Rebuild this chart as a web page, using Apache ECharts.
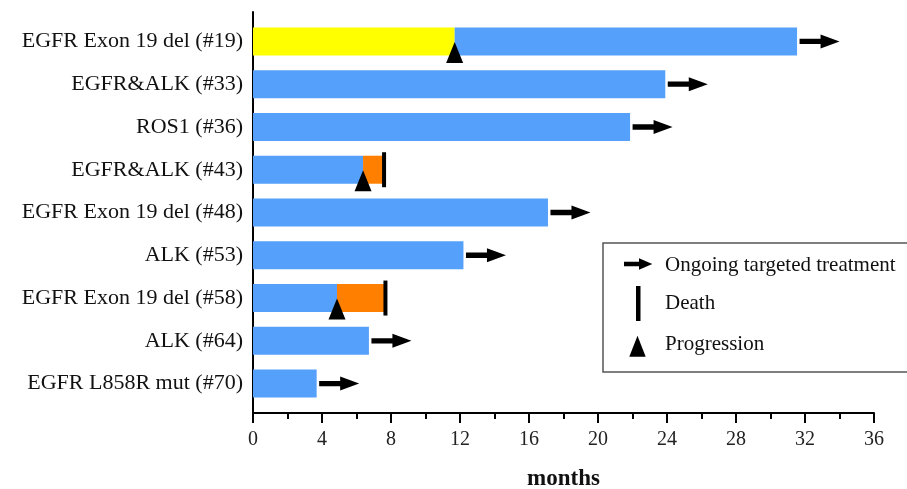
<!DOCTYPE html>
<html>
<head>
<meta charset="utf-8">
<script src="https://cdn.jsdelivr.net/npm/echarts@6/dist/echarts.min.js"></script>
<style>
html,body{margin:0;padding:0;background:#fff;}
#chart{width:907px;height:489px;}
</style>
</head>
<body>
<div id="chart"></div>
<script>
// ---- data ----
const categories = [
  'EGFR Exon 19 del (#19)',
  'EGFR&ALK (#33)',
  'ROS1 (#36)',
  'EGFR&ALK (#43)',
  'EGFR Exon 19 del (#48)',
  'ALK (#53)',
  'EGFR Exon 19 del (#58)',
  'ALK (#64)',
  'EGFR L858R mut (#70)'
];
const progressionMonths = [11.69, null, null, 6.38, null, null, 4.87, null, null];
const endMonths = [31.54, 23.9, 21.86, 7.54, 17.1, 12.2, 7.62, 6.72, 3.69];
const outcome = ['ongoing', 'ongoing', 'ongoing', 'death', 'ongoing', 'ongoing', 'death', 'ongoing', 'ongoing'];
const phase1Therapy = ['chemo', 'targeted', 'targeted', 'targeted', 'targeted', 'targeted', 'targeted', 'targeted', 'targeted'];
const phase2Therapy = ['targeted', null, null, 'other', null, null, 'other', null, null];
const xTicks = [0, 4, 8, 12, 16, 20, 24, 28, 32, 36];
const legendLabels = ['Ongoing targeted treatment', 'Death', 'Progression'];

// ---- styles ----
const therapyColor = { targeted: '#55A0FA', chemo: '#FFFF00', other: '#FF8000' };
const FONT = 'Liberation Serif';
const arrowPath = 'path://M0,4.3 L21,4.3 L21,0 L40,7 L21,14 L21,9.7 L0,9.7 Z';

const phase1Data = categories.map((c, i) => ({
  value: progressionMonths[i] != null ? progressionMonths[i] : endMonths[i],
  itemStyle: { color: therapyColor[phase1Therapy[i]] }
}));
const phase2Data = categories.map((c, i) => ({
  value: progressionMonths[i] != null ? +(endMonths[i] - progressionMonths[i]).toFixed(3) : 0,
  itemStyle: { color: phase2Therapy[i] ? therapyColor[phase2Therapy[i]] : 'transparent' }
}));
const progressionData = [];
const deathData = [];
const ongoingData = [];
categories.forEach((c, i) => {
  if (progressionMonths[i] != null) progressionData.push([progressionMonths[i], i]);
  if (outcome[i] === 'death') deathData.push([endMonths[i], i]);
  if (outcome[i] === 'ongoing') ongoingData.push([endMonths[i], i]);
});

const markStyle = { color: '#000', opacity: 1 };
const chart = echarts.init(document.getElementById('chart'), null, { renderer: 'canvas' });
const option = {
  animation: false,
  backgroundColor: '#fff',
  grid: [
    { left: 253, right: 33, top: 12, bottom: 76, containLabel: false, outerBoundsMode: 'none' },
    { left: 253, right: 33, top: 20, bottom: 84, containLabel: false, outerBoundsMode: 'none' }
  ],
  xAxis: [
    {
      gridIndex: 0, type: 'value', min: xTicks[0], max: xTicks[xTicks.length - 1], interval: xTicks[1] - xTicks[0],
      axisLine: { show: true, lineStyle: { color: '#000', width: 2 } },
      axisTick: { show: true, length: 10, lineStyle: { color: '#000', width: 2 } },
      minorTick: { show: true, splitNumber: 2, length: 6, lineStyle: { color: '#000', width: 2 } },
      splitLine: { show: false },
      axisLabel: { margin: 17, fontFamily: FONT, fontSize: 20, color: '#222' },
      name: 'months', nameLocation: 'middle', nameGap: 55,
      nameTextStyle: { fontFamily: FONT, fontSize: 23, fontWeight: 'bold', color: '#111' }
    },
    { gridIndex: 1, type: 'value', min: 0, max: 36, show: false }
  ],
  yAxis: [
    {
      gridIndex: 0, type: 'value', min: 0, max: 1,
      axisLine: { show: true, onZero: false, lineStyle: { color: '#000', width: 2 } },
      axisTick: { show: false }, axisLabel: { show: false }, splitLine: { show: false }
    },
    {
      gridIndex: 1, type: 'category', data: categories, inverse: true,
      axisLine: { show: false }, axisTick: { show: false }, splitLine: { show: false },
      axisLabel: { margin: 10, fontFamily: FONT, fontSize: 22, color: '#111' }
    }
  ],
  series: [
    { type: 'bar', xAxisIndex: 1, yAxisIndex: 1, stack: 'a', barWidth: 28, data: phase1Data },
    { type: 'bar', xAxisIndex: 1, yAxisIndex: 1, stack: 'a', barWidth: 28, data: phase2Data },
    {
      type: 'scatter', xAxisIndex: 1, yAxisIndex: 1, data: ongoingData,
      symbol: arrowPath, symbolSize: [40, 14], symbolOffset: [22.5, 0], symbolKeepAspect: false,
      itemStyle: markStyle, z: 5
    },
    {
      type: 'scatter', xAxisIndex: 1, yAxisIndex: 1, data: deathData,
      symbol: 'rect', symbolSize: [4, 35], symbolOffset: [1, 0],
      itemStyle: markStyle, z: 5
    },
    {
      type: 'scatter', xAxisIndex: 1, yAxisIndex: 1, data: progressionData,
      symbol: 'triangle', symbolSize: [17, 21], symbolOffset: [0, 11],
      itemStyle: markStyle, z: 6
    }
  ],
  graphic: [
    { type: 'rect', shape: { x: 603, y: 243, width: 330, height: 129 }, style: { fill: '#fff', stroke: '#555', lineWidth: 1.5 }, z: 10 },
    { type: 'polygon', shape: { points: [[624, 261.8], [639, 261.8], [639, 258.3], [652.3, 264], [639, 269.7], [639, 266.2], [624, 266.2]] }, style: { fill: '#000' }, z: 11 },
    { type: 'rect', shape: { x: 636, y: 286, width: 4.5, height: 35 }, style: { fill: '#000' }, z: 11 },
    { type: 'polygon', shape: { points: [[637.5, 335.7], [629.3, 356.7], [645.7, 356.7]] }, style: { fill: '#000' }, z: 11 },
    { type: 'text', x: 665, y: 265, style: { text: legendLabels[0], fontFamily: FONT, fontSize: 21, fill: '#111', verticalAlign: 'middle' }, z: 11 },
    { type: 'text', x: 665, y: 303, style: { text: legendLabels[1], fontFamily: FONT, fontSize: 21, fill: '#111', verticalAlign: 'middle' }, z: 11 },
    { type: 'text', x: 665, y: 344, style: { text: legendLabels[2], fontFamily: FONT, fontSize: 21, fill: '#111', verticalAlign: 'middle' }, z: 11 }
  ]
};
chart.setOption(option);
</script>
</body>
</html>
